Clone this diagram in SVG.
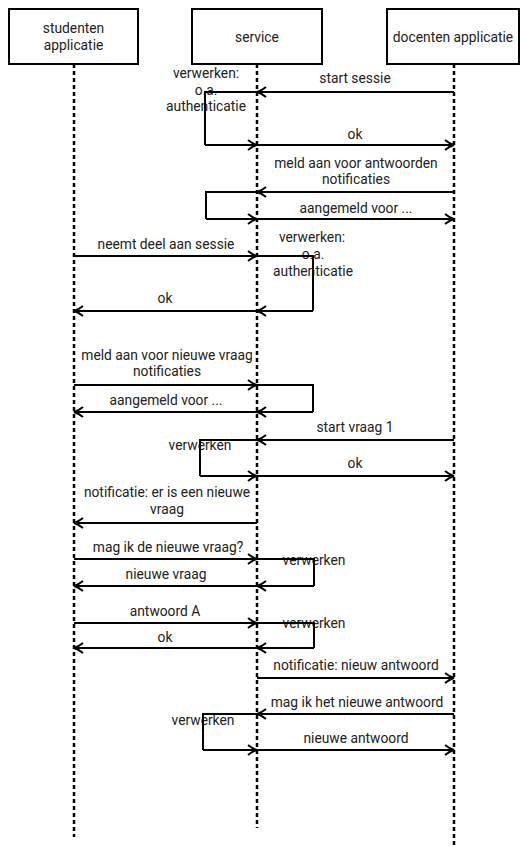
<svg xmlns="http://www.w3.org/2000/svg" width="521" height="847" viewBox="0 0 521 847">
<defs>
<style>
.box{fill:#fff;stroke:#000;stroke-width:2}
.life{stroke:#000;stroke-width:2.5;stroke-dasharray:4 3;fill:none}
.msg{stroke:#000;stroke-width:2;fill:none}
.arr{stroke:#000;stroke-width:2;fill:none;marker-end:url(#ah)}
text{font-family:Roboto,"Liberation Sans",sans-serif;font-size:13.8px;fill:#222;text-anchor:middle}
</style>
<marker id="ah" markerUnits="userSpaceOnUse" markerWidth="14" markerHeight="14" viewBox="-12 -7 14 14" refX="0" refY="0" orient="auto" overflow="visible">
<path d="M-9,-5 Q-4,-1 0,0 Q-4,1 -9,5" fill="none" stroke="#000" stroke-width="2"/>
</marker>
</defs>
<rect width="521" height="847" fill="#fff"/>
<g id="lifelines">
<line class="life" x1="74" y1="64" x2="74" y2="837"/>
<line class="life" x1="257" y1="64" x2="257" y2="828"/>
<line class="life" x1="454" y1="64" x2="454" y2="847"/>
</g>
<g id="studenten">
<rect class="box" x="9" y="9" width="129" height="55"/>
<text x="73.5" y="33">studenten</text>
<text x="73.5" y="50">applicatie</text>
</g>
<g id="service">
<rect class="box" x="192" y="9" width="130" height="55"/>
<text x="257" y="42">service</text>
</g>
<g id="docenten">
<rect class="box" x="387" y="9" width="132" height="55"/>
<text x="453" y="42">docenten applicatie</text>
</g>
<g id="labels">
<text x="355" y="83">start sessie</text>
<text x="206" y="78">verwerken:</text>
<text x="206" y="95">o.a.</text>
<text x="206" y="111">authenticatie</text>
<text x="355" y="139">ok</text>
<text x="356" y="168">meld aan voor antwoorden</text>
<text x="356" y="184">notificaties</text>
<text x="356" y="213">aangemeld voor ...</text>
<text x="166" y="249">neemt deel aan sessie</text>
<text x="312" y="242">verwerken:</text>
<text x="313" y="259">o.a.</text>
<text x="313" y="276">authenticatie</text>
<text x="165" y="303">ok</text>
<text x="167" y="360">meld aan voor nieuwe vraag</text>
<text x="167" y="376">notificaties</text>
<text x="166" y="405">aangemeld voor ...</text>
<text x="355" y="432">start vraag 1</text>
<text x="200" y="450">verwerken</text>
<text x="355" y="468">ok</text>
<text x="167" y="497">notificatie: er is een nieuwe</text>
<text x="167" y="514">vraag</text>
<text x="168" y="552">mag ik de nieuwe vraag?</text>
<text x="314" y="565">verwerken</text>
<text x="166" y="579">nieuwe vraag</text>
<text x="165" y="616">antwoord A</text>
<text x="314" y="628">verwerken</text>
<text x="165" y="642">ok</text>
<text x="356" y="670">notificatie: nieuw antwoord</text>
<text x="357" y="707">mag ik het nieuwe antwoord</text>
<text x="203" y="725">verwerken</text>
<text x="356" y="743">nieuwe antwoord</text>
</g>
<g id="connectors">
<path class="arr" d="M454,92 H257"/>
<path class="msg" d="M257,92 H205 V145"/>
<path class="arr" d="M205,145 H257"/>
<path class="arr" d="M257,145 H454"/>
<path class="arr" d="M454,192 H257"/>
<path class="msg" d="M257,192 H206 V219"/>
<path class="arr" d="M206,219 H257"/>
<path class="arr" d="M257,219 H454"/>
<path class="arr" d="M74,256 H257"/>
<path class="msg" d="M257,256 H313 V311"/>
<path class="arr" d="M313,311 H257"/>
<path class="arr" d="M257,311 H74"/>
<path class="arr" d="M74,385 H257"/>
<path class="msg" d="M257,385 H313 V412"/>
<path class="arr" d="M313,412 H257"/>
<path class="arr" d="M257,412 H74"/>
<path class="arr" d="M454,440 H257"/>
<path class="msg" d="M257,440 H200 V476"/>
<path class="arr" d="M200,476 H257"/>
<path class="arr" d="M257,476 H454"/>
<path class="arr" d="M257,523 H74"/>
<path class="arr" d="M74,559 H257"/>
<path class="msg" d="M257,559 H314 V586"/>
<path class="arr" d="M314,586 H257"/>
<path class="arr" d="M257,586 H74"/>
<path class="arr" d="M74,623 H257"/>
<path class="msg" d="M257,623 H314 V648"/>
<path class="arr" d="M314,648 H257"/>
<path class="arr" d="M257,648 H74"/>
<path class="arr" d="M257,678 H454"/>
<path class="arr" d="M454,714 H257"/>
<path class="msg" d="M257,714 H203 V750"/>
<path class="arr" d="M203,750 H257"/>
<path class="arr" d="M257,750 H454"/>
</g>
</svg>
